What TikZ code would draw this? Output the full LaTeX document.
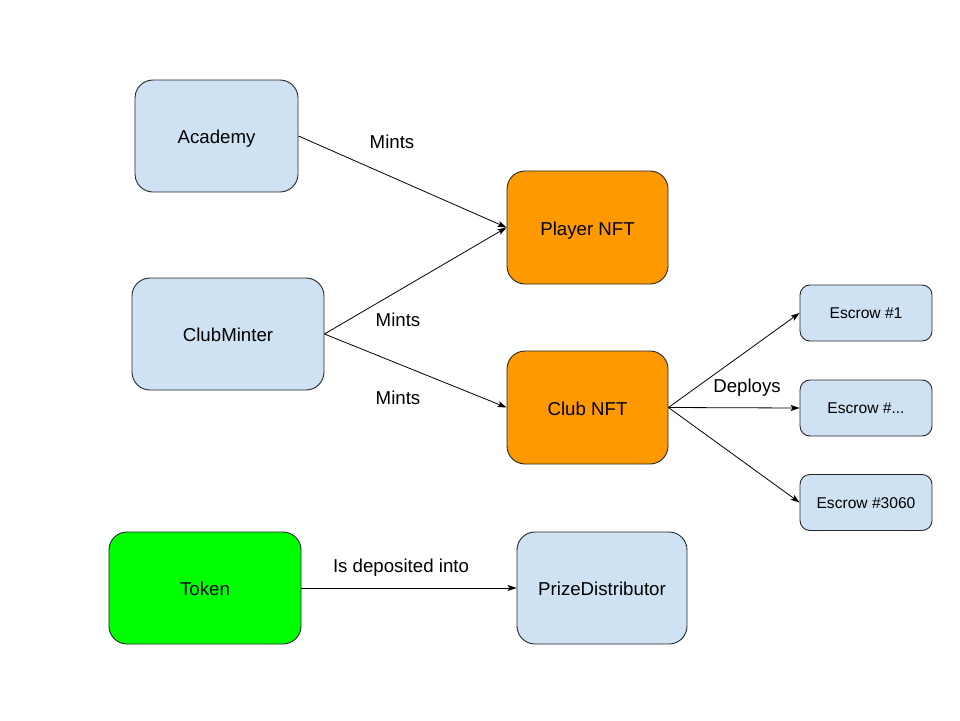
\documentclass[tikz,border=0pt]{standalone}
\usepackage{fontspec}
\setmainfont{Liberation Sans}
\usetikzlibrary{arrows.meta}
\definecolor{lblue}{HTML}{CFE2F3}
\definecolor{orng}{HTML}{FF9900}
\definecolor{grn}{HTML}{00FF00}
\tikzset{
  box/.style={draw=black!85, line width=0.9pt, rounded corners=18pt, align=center, inner sep=0pt,
    font=\fontsize{18.67}{22}\selectfont, text height=15.4pt, text depth=0pt},
  bigbox/.style={box, minimum width=#1, minimum height=112pt},
  smallbox/.style={draw=black!85, line width=0.9pt, rounded corners=10pt, fill=lblue, inner sep=0pt,
    minimum width=132pt, minimum height=56pt, font=\fontsize{15.6}{19}\selectfont,
    text height=11.8pt, text depth=0pt},
  lbl/.style={font=\fontsize{18.67}{22}\selectfont, inner sep=0pt, text height=13.4pt, text depth=0pt},
  conn/.style={draw=black, line width=0.8pt, -{Stealth[length=9pt,width=6pt,inset=2pt]}}
}
\begin{document}
\begin{tikzpicture}[x=1pt,y=-1pt]
\useasboundingbox (0,0) rectangle (960,720);
\node[bigbox=163pt, fill=lblue] (academy) at (216.5,136) {Academy};
\node[bigbox=161pt, minimum height=113pt, fill=orng] (player) at (587.5,227.5) {Player NFT};
\node[bigbox=192pt, fill=lblue] (minter) at (228,334) {ClubMinter};
\node[bigbox=161pt, minimum height=113pt, fill=orng] (club) at (587.5,407.5) {Club NFT};
\node[smallbox] (e1) at (866,313) {Escrow \#1};
\node[smallbox] (e2) at (866,408) {Escrow \#...};
\node[smallbox] (e3) at (866,502.5) {Escrow \#3060};
\node[bigbox=192pt, fill=grn] (token) at (205,588) {Token};
\node[bigbox=170pt, fill=lblue] (prize) at (602,588) {PrizeDistributor};

\draw[conn] (academy.east) -- (player.west);
\draw[conn] (minter.east) -- (player.west);
\draw[conn] (minter.east) -- (club.west);
\draw[conn] (club.east) -- (e1.west);
\draw[conn] (club.east) -- (e2.west);
\draw[conn] (club.east) -- (e3.west);
\draw[conn] (token.east) -- (prize.west);

\node[lbl] (m1) at (392,142) {Mints};
\node[lbl] (m2) at (398,320) {Mints};
\node[lbl] (m3) at (398,398) {Mints};
\node[lbl] (dep) at (747,386) {Deploys};
\node[lbl] (isd) at (401,566) {Is deposited into};
\end{tikzpicture}
\end{document}
